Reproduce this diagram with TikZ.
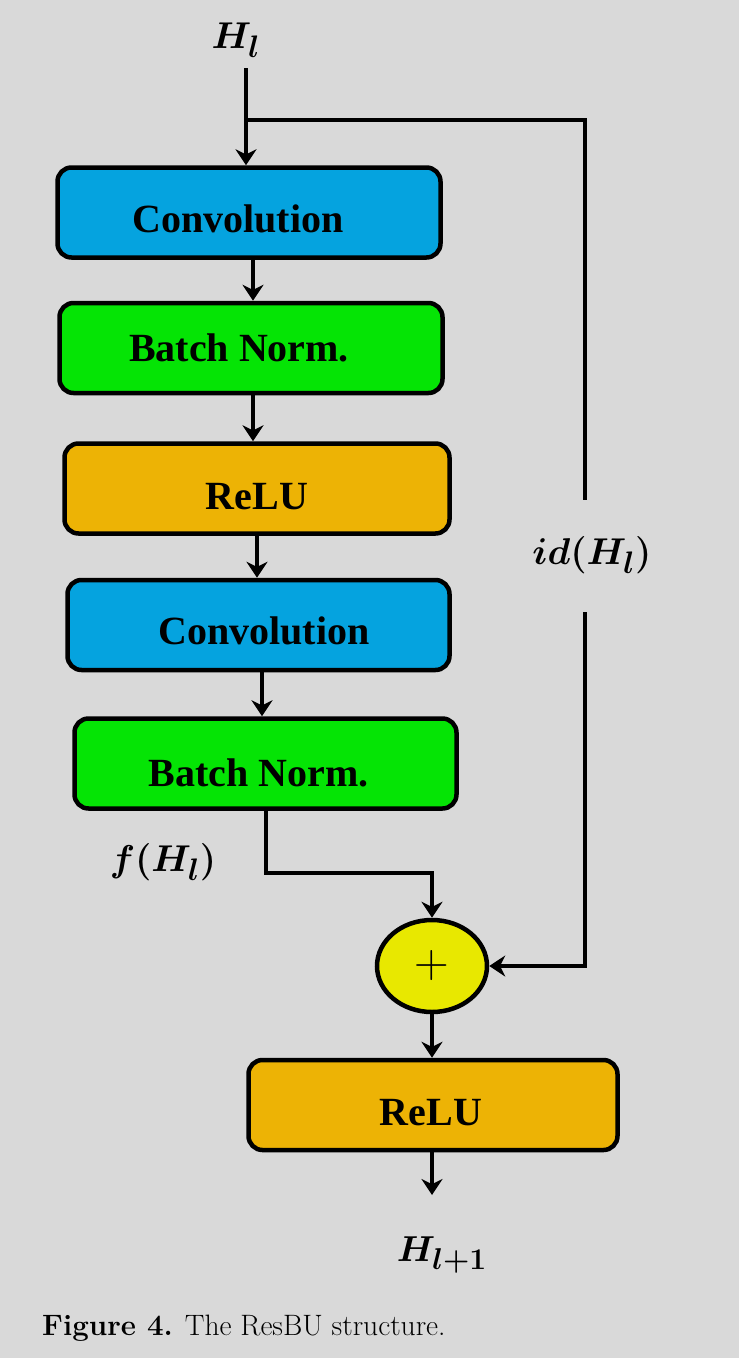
\documentclass[tikz,border=0pt]{standalone}
\usepackage{fontspec}
\usepackage{amsmath,bm,graphicx}
\newfontfamily\boxfont{Liberation Serif}
\usetikzlibrary{arrows.meta,shapes.geometric}
\definecolor{bgc}{RGB}{217,217,217}
\definecolor{convblue}{RGB}{5,163,223}
\definecolor{bngreen}{RGB}{5,228,5}
\definecolor{reluorange}{RGB}{237,179,5}
\definecolor{addyellow}{RGB}{232,232,0}
\newcommand{\padr}[1]{\rule{#1}{0pt}}
\begin{document}
\begin{tikzpicture}[x=1pt,y=-1pt,
  blk/.style={draw=black,line width=4.5pt,rounded corners=14pt,minimum height=90pt,inner sep=0pt,
    text depth=0pt,font=\boxfont\bfseries\fontsize{40}{44}\selectfont},
  conn/.style={line width=3.5pt,-{Stealth[length=16pt,width=21pt]}},
  wire/.style={line width=3.5pt},
  lbl/.style={inner sep=0pt,font=\fontsize{30}{34}\selectfont}]
\useasboundingbox (0,0) rectangle (739,1358);
\fill[bgc] (0,0) rectangle (739,1358);

\node[blk,fill=convblue,minimum width=383pt,text height=39.5pt] (c1) at (249,212.5) {Convolution\padr{22pt}};
\node[blk,fill=bngreen,minimum width=383pt,text height=26.5pt] (b2) at (251,348) {Batch Norm.\padr{24pt}};
\node[blk,fill=reluorange,minimum width=385pt,text height=41.5pt] (r1) at (257,488.5) {ReLU};
\node[blk,fill=convblue,minimum width=382pt,text height=39.5pt] (c2) at (258.5,625) {\padr{11pt}Convolution};
\node[blk,fill=bngreen,minimum width=382pt,text height=45.5pt] (b5) at (265.5,763.5) {Batch Norm.\padr{14pt}};
\node[ellipse,draw=black,line width=4.5pt,fill=addyellow,minimum width=110pt,minimum height=92pt,inner sep=0pt,
  font=\fontsize{48}{48}\selectfont] (add) at (432,966) {+};
\node[blk,fill=reluorange,minimum width=369pt,text height=41.5pt] (r2) at (433,1105) {ReLU\padr{4pt}};

\node[lbl] (hin) at (236,40) {\scalebox{1.5}{$\bm{H_l}$}};
\node[lbl] (idl) at (592,555) {\scalebox{1.5}{$\bm{id(H_l)}$}};
\node[lbl] (fl) at (163,862) {\scalebox{1.5}{$\bm{f(H_l)}$}};
\node[lbl] (hout) at (442,1255) {\scalebox{1.45}{$\bm{H_{l+1}}$}};

\coordinate (top) at (246,68);
\coordinate (split) at (246,120);
\coordinate (g1) at (585,500);
\coordinate (g2) at (585,612);
\coordinate (out) at (432,1195);

\draw[conn] (top) -- (c1.north -| top);
\draw[wire] (split) -- (split -| g1) -- (g1);
\draw[conn] (g2) |- (add.east);
\draw[conn] (c1.south -| 253,0) -- (b2.north -| 253,0);
\draw[conn] (b2.south -| 253,0) -- (r1.north -| 253,0);
\draw[conn] (r1.south -| 257,0) -- (c2.north -| 257,0);
\draw[conn] (c2.south -| 262,0) -- (b5.north -| 262,0);
\draw[conn] (b5.south -| 266,0) -- (266,873) -| (add.north);
\draw[conn] (add.south) -- (r2.north -| add.south);
\draw[conn] (r2.south -| out) -- (out);

\node[inner sep=0pt,anchor=west,font=\fontsize{29.5}{33}\selectfont] (cap) at (42,1328) {\textbf{Figure 4.} The ResBU structure.};
\end{tikzpicture}
\end{document}
